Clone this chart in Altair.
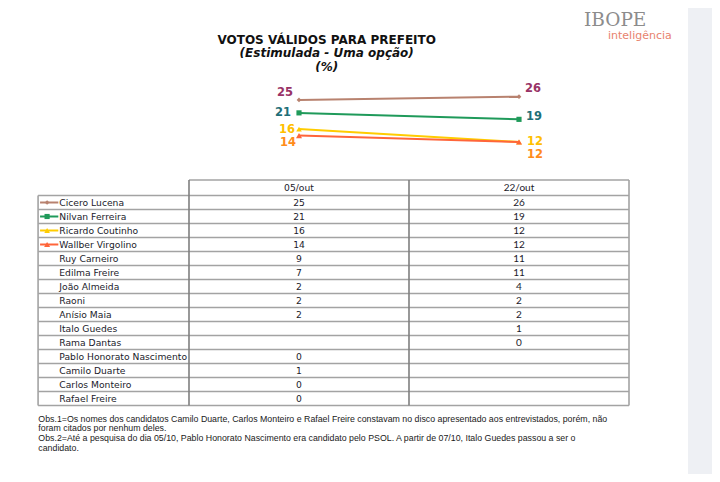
import altair as alt
import pandas as pd

# ---------------- data ----------------
dates = ["05/out", "22/out"]
names = ["Cicero Lucena", "Nilvan Ferreira", "Ricardo Coutinho", "Wallber Virgolino",
         "Ruy Carneiro", "Edilma Freire", "João Almeida", "Raoni", "Anísio Maia",
         "Italo Guedes", "Rama Dantas", "Pablo Honorato Nascimento", "Camilo Duarte",
         "Carlos Monteiro", "Rafael Freire"]
v05 = [25, 21, 16, 14, 9, 7, 2, 2, 2, None, None, 0, 1, 0, 0]
v22 = [26, 19, 12, 12, 11, 11, 4, 2, 2, 1, 0, None, None, None, None]
n_series = 4  # first four candidates are charted

title_lines = ["VOTOS VÁLIDOS PARA PREFEITO", "(Estimulada - Uma opção)", "(%)"]
notes = [
    "Obs.1=Os nomes dos candidatos Camilo Duarte, Carlos Monteiro e Rafael Freire constavam no disco apresentado aos entrevistados, porém, não",
    "foram citados por nenhum deles.",
    "Obs.2=Até a pesquisa do dia 05/10, Pablo Honorato Nascimento  era candidato pelo PSOL. A partir de 07/10, Italo Guedes passou a ser o",
    "candidato.",
]

# ---------------- styles ----------------
series = names[:n_series]
line_colors = ["#b8826f", "#1f9a5a", "#ffcc00", "#ff653a"]
label_colors = ["#993366", "#1f6f78", "#ffbf00", "#ff8c1a"]
shapes = ["diamond", "square", "triangle-up", "triangle-up"]
sizes = [22, 36, 34, 34]
label_offsets = [((-14, -7), (14, -7.5)), ((-16, 0), (15, -2)),
                 ((-12, 1), (16, 0)), ((-11, 7), (16, 13))]

W, H = 704, 466
TXT = "#1b1b2b"
GRID = "#a3a3a3"
VLINE = "#7f7f7f"

# layout constants (column units / row units)
TABLE_LEFT = -0.186
NAME_X = -0.0895
LEG_X1, LEG_X2, LEG_MX = -0.177, -0.094, -0.145
HEADER_TOP, HEADER_MID = -1.107, -0.554

xscale = alt.Scale(domain=[1, 2], range=[291, 511], zero=False, nice=False)
yline = alt.Scale(domain=[12, 26], range=[134, 88.7], zero=False, nice=False)
ytab = alt.Scale(domain=[0, 15], range=[187.5, 397.5], zero=False, nice=False)
cscale = alt.Scale(domain=series, range=line_colors)
sscale = alt.Scale(domain=series, range=shapes)
zscale = alt.Scale(domain=series, range=sizes)

# ---------------- line chart ----------------
rows = []
for i, s in enumerate(series):
    for j, d in enumerate(dates):
        rows.append({"name": s, "date": d, "xpos": j + 1, "value": [v05, v22][j][i]})
line_df = pd.DataFrame(rows)

base = alt.Chart(line_df).encode(
    x=alt.X("xpos:Q", scale=xscale, axis=None),
    y=alt.Y("value:Q", scale=yline, axis=None),
)
lines = base.mark_line(strokeWidth=2).encode(
    color=alt.Color("name:N", scale=cscale, legend=None), detail="name:N")
pts = base.mark_point(filled=True, opacity=1).encode(
    color=alt.Color("name:N", scale=cscale, legend=None),
    shape=alt.Shape("name:N", scale=sscale, legend=None),
    size=alt.Size("name:N", scale=zscale, legend=None))
label_layers = []
for i, s in enumerate(series):
    for j, d in enumerate(dates):
        dx, dy = label_offsets[i][j]
        label_layers.append(
            base.transform_filter((alt.datum.name == s) & (alt.datum.date == d))
            .mark_text(font="DejaVu Sans", fontSize=11.5, fontWeight="bold",
                       color=label_colors[i], dx=dx, dy=dy, align="center", baseline="middle")
            .encode(text="value:Q"))
line_group = alt.layer(lines, pts, *label_layers)

# ---------------- table ----------------
tab = pd.DataFrame({"name": names,
                    "v05": [("" if v is None else str(v)) for v in v05],
                    "v22": [("" if v is None else str(v)) for v in v22]})
tab["mid"] = [k + 0.5 for k in range(len(names))]
tab["tx"] = NAME_X
tab["x1"] = 1
tab["x2"] = 2

nrows = len(names)
hl = pd.DataFrame({"y": [HEADER_TOP] + list(range(nrows + 1)),
                   "xa": [0.5] + [TABLE_LEFT] * (nrows + 1),
                   "xb": [2.5] * (nrows + 2)})
vl_outer = pd.DataFrame({"x": [TABLE_LEFT, 2.5], "ya": [0, HEADER_TOP], "yb": [nrows, nrows]})
vl_inner = pd.DataFrame({"x": [0.5, 1.5], "ya": [HEADER_TOP, HEADER_TOP], "yb": [nrows, nrows]})

hrules = alt.Chart(hl).mark_rule(color=GRID, strokeWidth=1.6).encode(
    x=alt.X("xa:Q", scale=xscale, axis=None), x2="xb:Q",
    y=alt.Y("y:Q", scale=ytab, axis=None))
vrules_o = alt.Chart(vl_outer).mark_rule(color=GRID, strokeWidth=1.6).encode(
    x=alt.X("x:Q", scale=xscale, axis=None),
    y=alt.Y("ya:Q", scale=ytab, axis=None), y2="yb:Q")
vrules_i = alt.Chart(vl_inner).mark_rule(color=VLINE, strokeWidth=1.6).encode(
    x=alt.X("x:Q", scale=xscale, axis=None),
    y=alt.Y("ya:Q", scale=ytab, axis=None), y2="yb:Q")

tbase = alt.Chart(tab).encode(y=alt.Y("mid:Q", scale=ytab, axis=None))
name_txt = tbase.mark_text(font="DejaVu Sans", fontSize=9.2, color=TXT, align="left",
                           baseline="middle").encode(
    x=alt.X("tx:Q", scale=xscale, axis=None), text="name:N")
c1_txt = tbase.mark_text(font="DejaVu Sans", fontSize=9.2, color=TXT, align="center",
                         baseline="middle").encode(
    x=alt.X("x1:Q", scale=xscale, axis=None), text="v05:N")
c2_txt = tbase.mark_text(font="Lato", fontSize=10, color=TXT, align="center",
                         baseline="middle").encode(
    x=alt.X("x2:Q", scale=xscale, axis=None), text="v22:N")

hdr = pd.DataFrame({"d": dates, "x": [1, 2], "y": [HEADER_MID, HEADER_MID]})
hdr1 = alt.Chart(hdr.iloc[[0]]).mark_text(font="DejaVu Sans", fontSize=9.2, color=TXT,
                                          baseline="middle").encode(
    x=alt.X("x:Q", scale=xscale, axis=None), y=alt.Y("y:Q", scale=ytab, axis=None), text="d:N")
hdr2 = alt.Chart(hdr.iloc[[1]]).mark_text(font="Lato", fontSize=10, color=TXT,
                                          baseline="middle").encode(
    x=alt.X("x:Q", scale=xscale, axis=None), y=alt.Y("y:Q", scale=ytab, axis=None), text="d:N")

leg = tab.iloc[:n_series].copy()
leg["la"] = LEG_X1
leg["lb"] = LEG_X2
leg["lm"] = LEG_MX
leg_line = alt.Chart(leg).mark_rule(strokeWidth=2).encode(
    x=alt.X("la:Q", scale=xscale, axis=None), x2="lb:Q",
    y=alt.Y("mid:Q", scale=ytab, axis=None),
    color=alt.Color("name:N", scale=cscale, legend=None))
leg_pt = alt.Chart(leg).mark_point(filled=True, opacity=1).encode(
    x=alt.X("lm:Q", scale=xscale, axis=None),
    y=alt.Y("mid:Q", scale=ytab, axis=None),
    color=alt.Color("name:N", scale=cscale, legend=None),
    shape=alt.Shape("name:N", scale=sscale, legend=None),
    size=alt.Size("name:N", scale=zscale, legend=None))

table_group = alt.layer(hrules, vrules_o, vrules_i, leg_line, leg_pt,
                        name_txt, c1_txt, c2_txt, hdr1, hdr2)


# ---------------- annotations ----------------
def note(text, x, y, **kw):
    return alt.Chart(pd.DataFrame({"t": [text]})).mark_text(**kw).encode(
        x=alt.value(x), y=alt.value(y), text="t:N")


strip = alt.Chart(pd.DataFrame({"a": [0]})).mark_rect(color="#eef0f4").encode(
    x=alt.value(680), x2=alt.value(W), y=alt.value(0), y2=alt.value(H))

annots = [
    note(title_lines[0], 318.7, 36, font="DejaVu Sans", fontSize=12, fontWeight="bold",
         color="#111111", align="center", baseline="alphabetic"),
    note(title_lines[1], 318.7, 49.4, font="DejaVu Sans", fontSize=12, fontWeight="bold",
         fontStyle="italic", color="#111111", align="center", baseline="alphabetic"),
    note(title_lines[2], 318.7, 62.7, font="DejaVu Sans", fontSize=12, fontWeight="bold",
         fontStyle="italic", color="#111111", align="center", baseline="alphabetic"),
    note("IBOPE", 576, 17.7, font="DejaVu Serif", fontSize=18.5, color="#8c8c8c",
         align="left", baseline="alphabetic"),
    note("inteligência", 600, 31.3, font="DejaVu Sans", fontSize=11, color="#e8826e",
         align="left", baseline="alphabetic"),
]
for k, t in enumerate(notes):
    annots.append(note(t, 30.3, [410.7, 420.0, 430.3, 439.7][k], font="Liberation Sans",
                       fontSize=8.8, color="#1a1a1a", align="left", baseline="middle"))

chart = alt.layer(strip, line_group, table_group, *annots).resolve_scale(
    y="independent"
).properties(
    width=W, height=H, padding=0, background="white",
    autosize=alt.AutoSizeParams(type="none"),
).configure_view(stroke=None)

chart.save("out.html", embed_options={"renderer": "svg", "actions": False})
